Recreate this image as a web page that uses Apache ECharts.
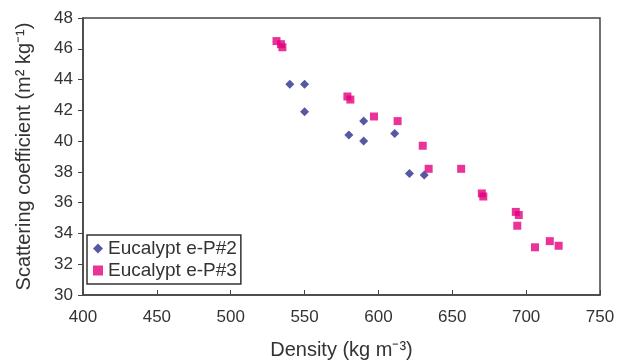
<!DOCTYPE html>
<html><head><meta charset="utf-8">
<script src="https://cdn.jsdelivr.net/npm/echarts@6/dist/echarts.min.js"></script>
<style>html,body{margin:0;padding:0;background:#fff}#c{width:618px;height:360px}</style>
</head><body><div id="c"></div>
<script>
const seriesNames = ['Eucalypt e-P#2', 'Eucalypt e-P#3'];
const p2Density = [540, 550, 550, 580, 590, 590, 611, 621, 631];
const p2Scatter = [43.7, 43.7, 41.9, 40.4, 41.3, 40.0, 40.5, 37.9, 37.8];
const p3Density = [531, 534, 535, 579, 581, 597, 613, 630, 634, 656, 670, 671, 693, 695, 694, 706, 716, 722];
const p3Scatter = [46.5, 46.3, 46.1, 42.9, 42.7, 41.6, 41.3, 39.7, 38.2, 38.2, 36.6, 36.4, 35.4, 35.2, 34.5, 33.1, 33.5, 33.2];
const xTicks = [400, 450, 500, 550, 600, 650, 700, 750];
const yTicks = [30, 32, 34, 36, 38, 40, 42, 44, 46, 48];

const pairs = (xs, ys) => xs.map((x, i) => [x, ys[i]]);
const font = 'Liberation Sans, Arial, sans-serif';
const chart = echarts.init(document.getElementById('c'));
chart.setOption({
  animation: false,
  grid: { left: 83, right: 18, top: 18, bottom: 65, show: true, borderColor: '#444', borderWidth: 1.5,
          containLabel: false, outerBoundsMode: 'none' },
  xAxis: {
    type: 'value', min: xTicks[0], max: xTicks[xTicks.length - 1], interval: 50,
    name: 'Density (kg m\u207B\u00B3)', nameLocation: 'middle', nameGap: 45,
    nameTextStyle: { fontFamily: font, fontSize: 20, color: '#333' },
    axisLine: { lineStyle: { color: '#444', width: 1.5 } },
    axisTick: { inside: true, length: 5, lineStyle: { color: '#444' } },
    axisLabel: { fontFamily: font, fontSize: 17, color: '#333', margin: 14 },
    splitLine: { show: false }
  },
  yAxis: {
    type: 'value', min: yTicks[0], max: yTicks[yTicks.length - 1], interval: 2,
    name: 'Scattering coefficient (m\u00B2 kg\u207B\u00B9)', nameLocation: 'middle', nameGap: 49,
    nameTextStyle: { fontFamily: font, fontSize: 20, color: '#333' },
    axisLine: { lineStyle: { color: '#444', width: 1.5 } },
    axisTick: { length: 5, lineStyle: { color: '#444' } },
    axisLabel: { fontFamily: font, fontSize: 17, color: '#333', margin: 10 },
    splitLine: { show: false }
  },
  legend: {
    orient: 'vertical', left: 87, top: 235, itemGap: 3,
    backgroundColor: '#fff', borderColor: '#333', borderWidth: 1.5,
    padding: [4, 4, 4, 6], itemWidth: 10, itemHeight: 10,
    textStyle: { fontFamily: font, fontSize: 19, color: '#333' },
    data: [{ name: seriesNames[0], icon: 'diamond' }, { name: seriesNames[1], icon: 'rect' }]
  },
  series: [
    { name: seriesNames[0], type: 'scatter', symbol: 'diamond', symbolSize: 9,
      itemStyle: { color: '#2b2e8c' }, data: pairs(p2Density, p2Scatter) },
    { name: seriesNames[1], type: 'scatter', symbol: 'rect', symbolSize: 8,
      itemStyle: { color: '#e4007f' }, data: pairs(p3Density, p3Scatter) }
  ]
});
</script></body></html>
